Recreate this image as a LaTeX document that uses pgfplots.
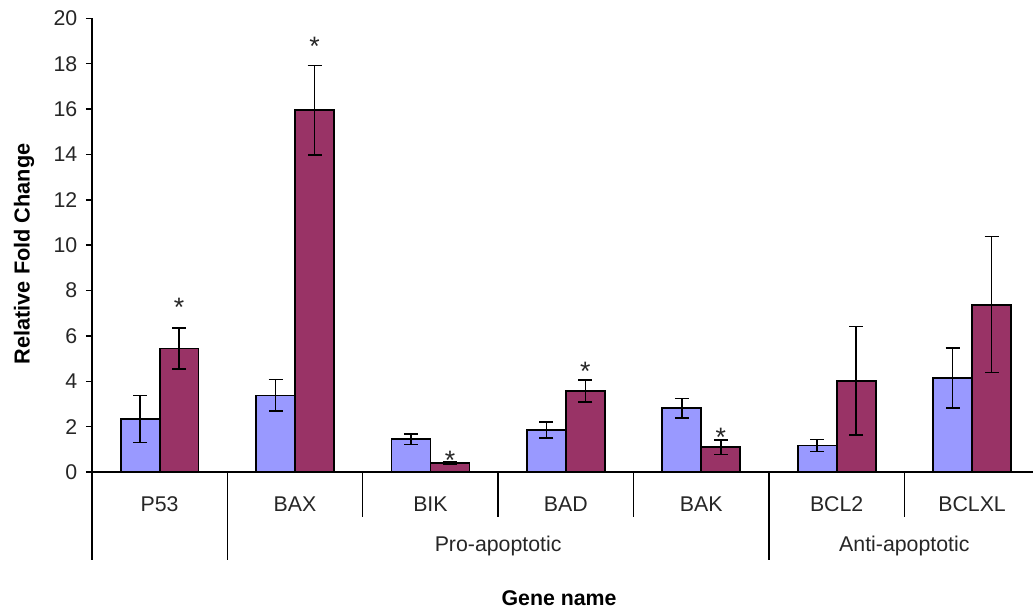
\documentclass[border=0pt]{standalone}
\usepackage{pgfplots}
\pgfplotsset{compat=1.18}
\usepackage{pgfplotstable}
\usepackage{fontspec}
\setmainfont{Liberation Sans}
\definecolor{cblue}{HTML}{9999FF}
\definecolor{cred}{HTML}{993366}
\pgfplotstableread{
x y e
-0.1439 2.34 1.04
0.8561 3.38 0.70
1.8561 1.45 0.23
2.8561 1.86 0.35
3.8561 2.82 0.43
4.8561 1.17 0.27
5.8561 4.14 1.32
}\blueData
\pgfplotstableread{
x y e
0.1439 5.45 0.90
1.1439 15.95 1.98
2.1439 0.39 0.05
3.1439 3.58 0.49
4.1439 1.10 0.32
5.1439 4.02 2.39
6.1439 7.38 3.00
}\redData
\pgfplotstableread{
x y
0.1439 7.24
1.1439 18.75
2.1439 0.50
3.1439 4.42
4.1439 1.51
}\starData
\begin{document}
\begin{tikzpicture}
\begin{axis}[
  width=706.5pt, height=340.5pt, scale only axis,
  xmin=-0.5, xmax=6.452, ymin=0, ymax=20,
  axis x line=bottom, axis y line=left,
  axis line style={-, line width=1.1pt, black},
  xtick=\empty,
  ytick={0,2,...,20},
  tick align=outside, major tick length=4.5pt,
  ytick style={line width=1.1pt, black},
  /pgf/number format/assume math mode=true,
  yticklabel style={font=\fontsize{16}{18}\selectfont, color=black!85, xshift=-3pt},
  clip=false,
  ybar=0pt, bar width=29.25pt,
]
\addplot[bar shift=0pt, fill=cblue, draw=black, line width=1.3pt,
  error bars/.cd, y dir=both, y explicit,
  error bar style={line width=1.2pt, black},
  error mark options={rotate=90, mark size=5.25pt, line width=1.2pt, black}]
  table[x=x, y=y, y error=e]{\blueData};
\addplot[bar shift=0pt, fill=cred, draw=black, line width=1.3pt,
  error bars/.cd, y dir=both, y explicit,
  error bar style={line width=1.2pt, black},
  error mark options={rotate=90, mark size=5.25pt, line width=1.2pt, black}]
  table[x=x, y=y, y error=e]{\redData};
\addplot[bar shift=0pt, draw=none, fill=none, mark=none, nodes near coords={*},
  nodes near coords style={anchor=center, font=\fontsize{20}{22}\selectfont, color=black!85, inner sep=0pt}]
  table[x=x, y=y]{\starData};
% separators
\draw[line width=1.1pt] (axis cs:-0.5,0) -- (axis cs:-0.5,-3.88);
\draw[line width=1.1pt] (axis cs:0.5,0) -- (axis cs:0.5,-3.88);
\draw[line width=1.1pt] (axis cs:4.5,0) -- (axis cs:4.5,-3.88);
\draw[line width=1.1pt] (axis cs:1.5,0) -- (axis cs:1.5,-1.98);
\draw[line width=1.1pt] (axis cs:2.5,0) -- (axis cs:2.5,-1.98);
\draw[line width=1.1pt] (axis cs:3.5,0) -- (axis cs:3.5,-1.98);
\draw[line width=1.1pt] (axis cs:5.5,0) -- (axis cs:5.5,-1.98);
\begin{scope}[every node/.style={font=\fontsize{16}{18}\selectfont, text=black!85, anchor=base, inner sep=0pt}]
\node at (axis cs:0,-1.72) {P53};
\node at (axis cs:1,-1.72) {BAX};
\node at (axis cs:2,-1.72) {BIK};
\node at (axis cs:3,-1.72) {BAD};
\node at (axis cs:4,-1.72) {BAK};
\node at (axis cs:5,-1.72) {BCL2};
\node at (axis cs:6,-1.72) {BCLXL};
\node at (axis cs:2.5,-3.51) {Pro-apoptotic};
\node at (axis cs:5.5,-3.51) {Anti-apoptotic};
\node[font=\fontsize{16}{18}\selectfont\bfseries, text=black] at (axis cs:2.95,-5.89) {Gene name};
\end{scope}
\node[font=\fontsize{16.3}{18}\selectfont\bfseries, rotate=90, anchor=center, inner sep=0pt] at (axis cs:-1.002,9.62) {Relative Fold Change};
\path (axis cs:-1.179,20.81) rectangle (axis cs:6.452,-6.29);
\end{axis}
\end{tikzpicture}
\end{document}
